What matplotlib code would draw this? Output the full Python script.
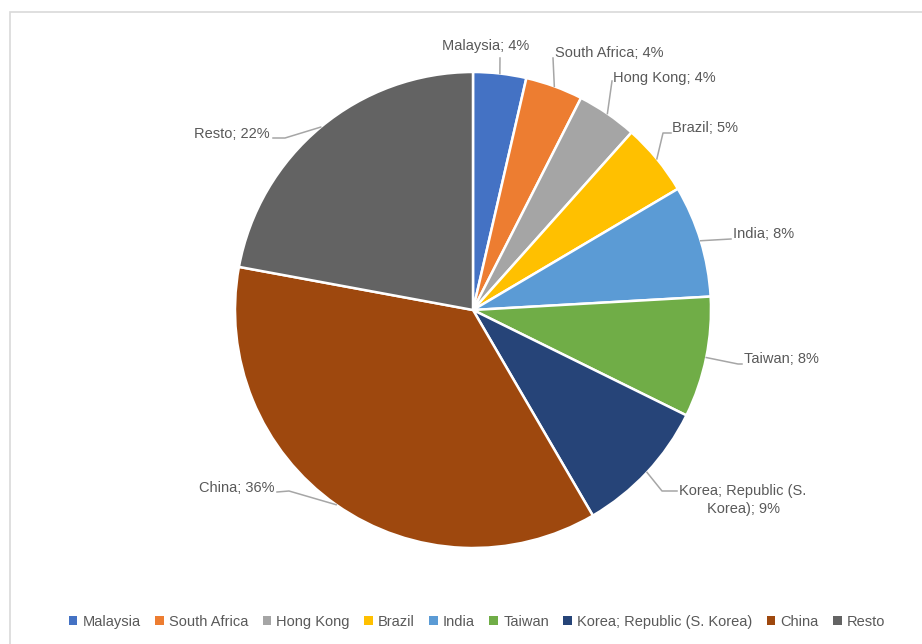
import matplotlib.pyplot as plt
import numpy as np
from matplotlib.patches import Rectangle

countries = ['Malaysia', 'South Africa', 'Hong Kong', 'Brazil', 'India', 'Taiwan',
             'Korea; Republic (S. Korea)', 'China', 'Resto']
shares = [3.6, 3.9, 4.1, 4.9, 7.6, 8.2, 9.3, 36.3, 22.1]
colors = ['#4472C4', '#ED7D31', '#A5A5A5', '#FFC000', '#5B9BD5', '#70AD47',
          '#264478', '#9E480E', '#636363']
label_texts = ['Malaysia', 'South Africa', 'Hong Kong', 'Brazil', 'India', 'Taiwan',
               'Korea; Republic (S.\nKorea)', 'China', 'Resto']

# label layout in pixels (x, y from top, horizontal alignment)
label_pos = [(486, 46, 'center'), (555, 53, 'left'), (613, 78, 'left'), (672, 128, 'left'),
             (733, 234, 'left'), (744, 359, 'left'), (743, 500, 'center'),
             (274, 488, 'right'), (270, 134, 'right')]
# leader lines in pixels: start next to the label, elbow
line_starts = [(500, 58), (553, 58), (612, 81), (671, 133), (731, 239), (742, 364),
               (677, 491), (277, 492), (273, 138)]
elbows = [(500, 58), (553, 58), (612, 81), (663, 133), (731, 239), (738, 364),
          (662, 491), (289, 491), (285, 138)]

W, H = 922, 644
fig = plt.figure(figsize=(W / 100, H / 100), dpi=100)
ax = fig.add_axes([0, 0, 1, 1])

font = ['Liberation Sans', 'DejaVu Sans']
text_color = '#595959'

ax.add_patch(Rectangle((9.5, -20), W + 20, H - 12 + 20, fill=False,
                       edgecolor='#D9D9D9', linewidth=1.2))

cx, cy, r = 473, H - 310, 238
wedges, _ = ax.pie(shares, colors=colors, startangle=90, counterclock=False,
                   center=(cx, cy), radius=r, frame=True,
                   wedgeprops=dict(edgecolor='white', linewidth=1.8))
ax.set_xlim(0, W)
ax.set_ylim(0, H)
ax.set_aspect('equal')
ax.axis('off')

for wedge, name, share, (lx, ly, ha), (sx, sy), (ex, ey) in zip(
        wedges, label_texts, shares, label_pos, line_starts, elbows):
    ang = np.deg2rad((wedge.theta1 + wedge.theta2) / 2)
    px, py = cx + r * np.cos(ang), cy + r * np.sin(ang)
    ax.text(lx, H - ly, f'{name}; {round(share)}%', ha=ha, va='center',
            fontsize=10.5, color=text_color, family=font, linespacing=1.45)
    ax.plot([sx, ex, px], [H - sy, H - ey, py], color='#A6A6A6', lw=1.1)

handles = [Rectangle((0, 0), 1, 1, facecolor=c) for c in colors]
fig.legend(handles, countries, loc='center', bbox_to_anchor=(477 / W, 1 - 622 / H),
           ncol=len(countries), frameon=False, handlelength=0.6, handleheight=0.6,
           handletextpad=0.35, columnspacing=0.98,
           prop=dict(family=font, size=10.5), labelcolor=text_color)

fig.savefig('out.png', dpi=100)
